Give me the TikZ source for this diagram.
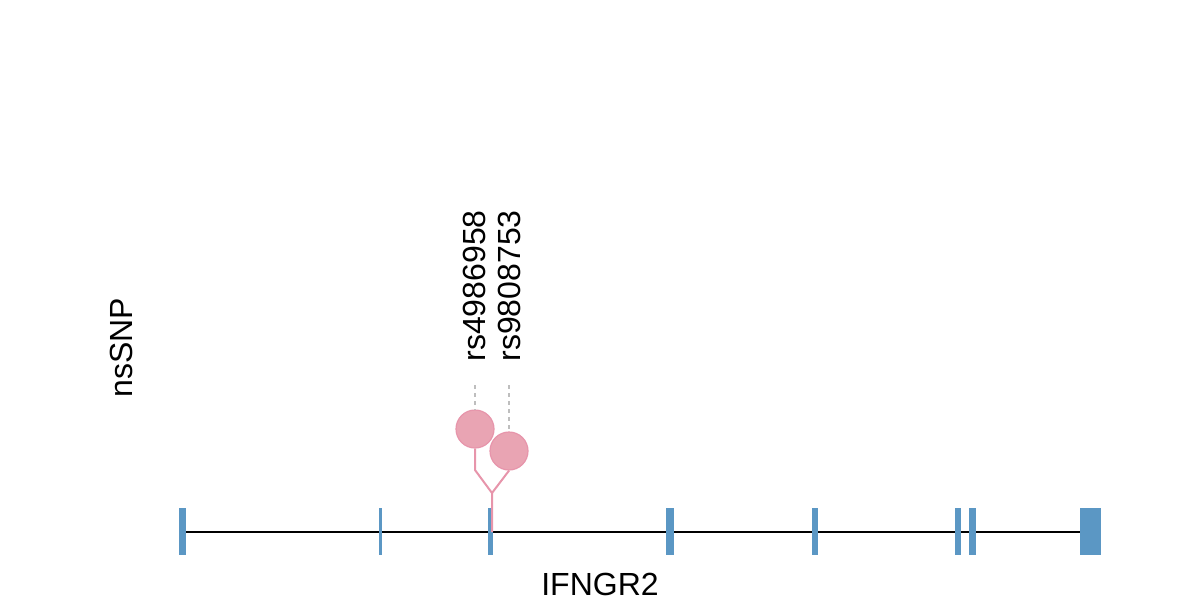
\documentclass[tikz,border=0pt]{standalone}
\usepackage{fontspec}
\setmainfont{Liberation Sans}
\usetikzlibrary{positioning}
\definecolor{ExonBlue}{HTML}{5B97C4}
\definecolor{SnpPink}{HTML}{E9A4B3}
\definecolor{SnpEdge}{HTML}{E795AB}
\definecolor{GuideGrey}{HTML}{BEBEBE}

\begin{document}
\begin{tikzpicture}[x=0.5pt,y=-0.5pt,
  exon/.style={fill=ExonBlue,inner sep=0pt,minimum height=23.5pt},
  snp/.style={circle,fill=SnpPink,draw=SnpEdge,line width=0.6pt,inner sep=0pt,minimum size=19pt},
  stem/.style={SnpEdge,line width=1pt},
  guide/.style={GuideGrey,dash pattern=on 2pt off 2pt,line width=0.7pt},
  snplabel/.style={rotate=90,anchor=base west,inner sep=0pt,font=\fontsize{16}{19}\selectfont}]
  \useasboundingbox (0,0) rectangle (1200,600);
  % axe du gene
  \coordinate (txstart) at (183,531.5);
  \coordinate (txend) at (1085,531.5);
  \draw[black,line width=1pt] (txstart) -- (txend);
  \node[exon,minimum width=3.5pt] (ex1) at (182.5,531.5) {};
  \node[exon,minimum width=1.5pt] (ex2) at (380.5,531.5) {};
  \node[exon,minimum width=2.5pt] (ex3) at (490.5,531.5) {};
  \node[exon,minimum width=4pt] (ex4) at (670,531.5) {};
  \node[exon,minimum width=3pt] (ex5) at (815,531.5) {};
  \node[exon,minimum width=3pt] (ex6) at (958,531.5) {};
  \node[exon,minimum width=3.5pt] (ex7) at (972.5,531.5) {};
  \node[exon,minimum width=10.5pt] (ex8) at (1090.5,531.5) {};
  % nsSNP en sucettes
  \coordinate (snpbase) at (492,532);
  \coordinate (fork) at (492,493);
  \coordinate (bend) at (475,470);
  \node[snp] (rsA) at (475,429) {};
  \node[snp] (rsB) at (509,451) {};
  \draw[stem] (snpbase) -- (fork) -- (bend) -- (rsA.south);
  \draw[stem] (fork) -- (rsB.south);
  \coordinate (topA) at (475,385);
  \coordinate (topB) at (509,385);
  \draw[guide] (topA) -- (rsA.north);
  \draw[guide] (topB) -- (rsB.north);
  \node[snplabel] (labA) at (485,362) {rs4986958};
  \node[snplabel] (labB) at (520,362) {rs9808753};
  \node[snplabel] (track) at (132,398) {nsSNP};
  \node[anchor=base,inner sep=0pt,font=\fontsize{16}{19}\selectfont] (gene) at (600,595) {IFNGR2};
\end{tikzpicture}
\end{document}
